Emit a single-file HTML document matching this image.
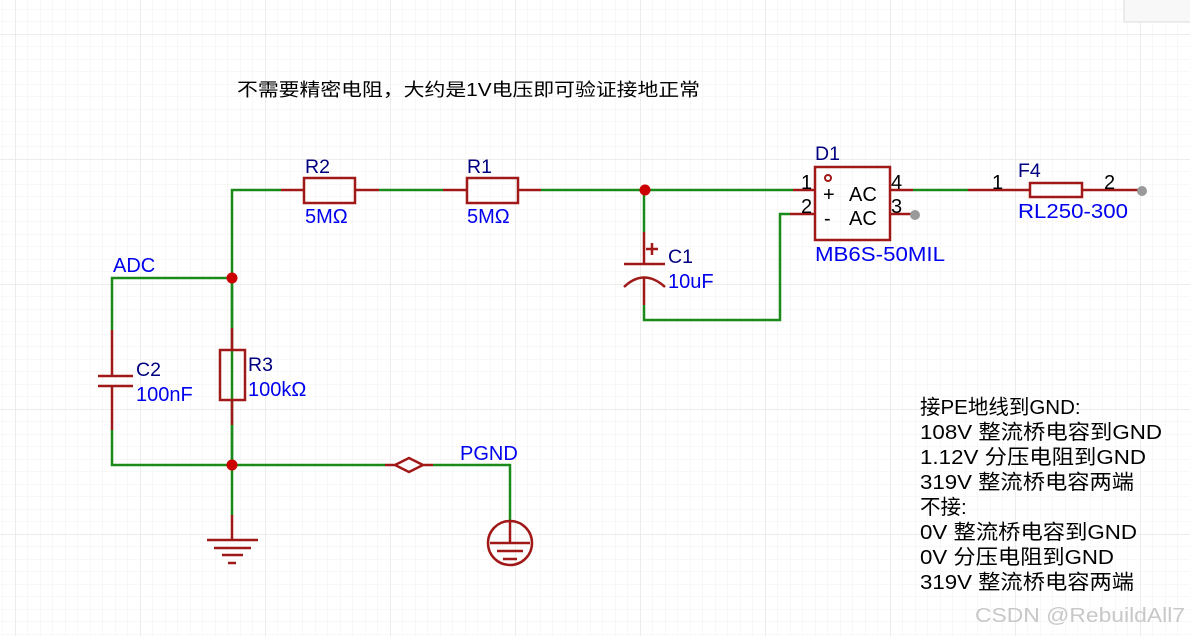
<!DOCTYPE html>
<html><head><meta charset="utf-8"><style>
html,body{margin:0;padding:0;width:1190px;height:636px;overflow:hidden;background:#fff}
svg{display:block}
text{font-family:"Liberation Sans","Noto Sans CJK SC",sans-serif}
</style></head><body>
<svg width="1190" height="636" viewBox="0 0 1190 636" xmlns="http://www.w3.org/2000/svg">
<defs>
<pattern id="mn" x="15" y="34" width="12.5" height="12.5" patternUnits="userSpaceOnUse">
<path d="M0 0V12.5M0 0H12.5" stroke="#f4f2ec" stroke-width="1" fill="none"/></pattern>
<pattern id="mj" x="15" y="34" width="125" height="125" patternUnits="userSpaceOnUse">
<path d="M0 0V125M0 0H125" stroke="#e8e6e2" stroke-width="1.5" fill="none"/></pattern>
</defs>
<rect width="1190" height="636" fill="url(#mn)"/>
<rect width="1190" height="636" fill="url(#mj)"/>
<rect x="1124" y="-2" width="70" height="24" fill="#f8f8f8" stroke="#ddd"/>

<g stroke="#1a8a1a" stroke-width="2.5" fill="none">
<path d="M232 465V190H281M379 190H443M541 190H793"/>
<path d="M112 330V278H232M232 278V328M232 425V515M112 430V465H385M433 465H510V520"/>
<path d="M644 190V232M644 305V320H780V214H790M913 190H968"/>
</g>
<g stroke="#a01818" stroke-width="2.5" fill="none">
<path d="M281 190H304M355 190H379M443 190H467M518 190H541"/>
<rect x="304" y="178" width="51" height="25"/>
<rect x="467" y="178" width="51" height="25"/>
<path d="M232 328V350M232 400V425"/>
<rect x="220" y="350" width="25" height="50"/>
<path d="M112 330V376M112 386V430M98 376H133M98 386H133"/>
<path d="M232 515V540M207 540H258M214 548H251M222 555H243M228 563H236"/>
<path d="M385 465H395L409 458L423 465L409 472L395 465M423 465H433"/>
<circle cx="510" cy="543" r="22"/>
<path d="M510 520V543M490 543H530M497 551H523M503 559H517"/>
<path d="M644 232V264M624 264H665M644 277V305M624 287Q644 268 665 287M652 243V255M646 249H658"/>
<path d="M793 190H815M790 214H815M890 190H913M890 214H913M968 190H1030M1082 190H1140"/>
<rect x="815" y="167" width="75" height="73"/>
<circle cx="828" cy="178" r="3" stroke-width="2"/>
<rect x="1030" y="183" width="52" height="14"/>
</g>
<g fill="#cc0000">
<circle cx="232" cy="278" r="5.5"/><circle cx="232" cy="465" r="5.5"/><circle cx="645" cy="190" r="5.5"/>
</g>
<g fill="#9a9a9a"><circle cx="915" cy="215" r="5"/><circle cx="1142" cy="191" r="5"/></g>

<g font-size="19.5" fill="#000080">
<text x="305" y="173">R2</text><text x="467" y="173">R1</text>
<text x="248" y="371">R3</text><text x="136" y="376">C2</text>
<text x="668" y="263">C1</text><text x="815" y="160">D1</text><text x="1018" y="177">F4</text>
</g>
<g font-size="20" fill="#0000ee">
<text x="305" y="223">5MΩ</text><text x="467" y="223">5MΩ</text>
<text x="248" y="396">100kΩ</text><text x="136" y="401">100nF</text>
<text x="668" y="288">10uF</text><text x="815" y="261" textLength="130" lengthAdjust="spacingAndGlyphs">MB6S-50MIL</text>
<text x="1018" y="218" textLength="110" lengthAdjust="spacingAndGlyphs">RL250-300</text>
<text x="113" y="272">ADC</text><text x="460" y="460">PGND</text>
</g>
<g font-size="20" fill="#000">
<text x="801" y="189">1</text><text x="801" y="213">2</text>
<text x="891" y="189">4</text><text x="891" y="213">3</text>
<text x="992" y="189">1</text><text x="1104" y="189">2</text>
<text x="823" y="201">+</text><text x="824" y="225">-</text>
<text x="849" y="201">AC</text><text x="849" y="225">AC</text>
</g>
<text x="237" y="96" font-size="18" fill="#000" textLength="463" lengthAdjust="spacingAndGlyphs">不需要精密电阻，大约是1V电压即可验证接地正常</text>
<g font-size="20.5" fill="#000">
<text x="920" y="414">接PE地线到GND:</text>
<text x="920" y="439" textLength="242" lengthAdjust="spacingAndGlyphs">108V 整流桥电容到GND</text>
<text x="920" y="464" textLength="226" lengthAdjust="spacingAndGlyphs">1.12V 分压电阻到GND</text>
<text x="920" y="489" textLength="214" lengthAdjust="spacingAndGlyphs">319V 整流桥电容两端</text>
<text x="920" y="514">不接:</text>
<text x="920" y="539" textLength="217" lengthAdjust="spacingAndGlyphs">0V 整流桥电容到GND</text>
<text x="920" y="564" textLength="194" lengthAdjust="spacingAndGlyphs">0V 分压电阻到GND</text>
<text x="920" y="589" textLength="214" lengthAdjust="spacingAndGlyphs">319V 整流桥电容两端</text>
</g>
<text x="975" y="622" font-size="20" fill="#c8c8c8" textLength="210" lengthAdjust="spacingAndGlyphs">CSDN @RebuildAll7</text>
</svg>
</body></html>
